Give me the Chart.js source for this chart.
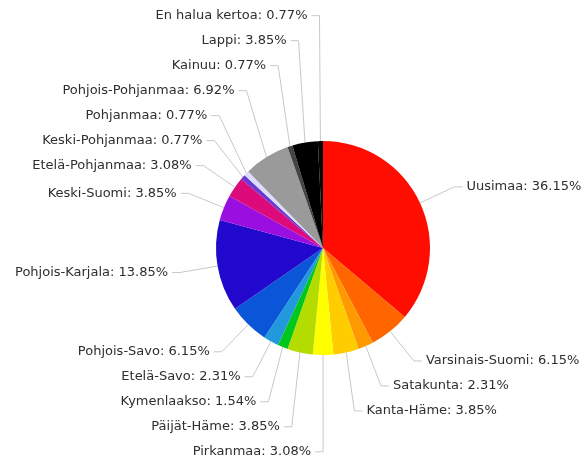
<!DOCTYPE html>
<html>
<head>
<meta charset="utf-8">
<script src="https://cdn.jsdelivr.net/npm/chart.js@4/dist/chart.umd.min.js"></script>
<style>
  html, body { margin: 0; padding: 0; background: #fff; }
  #chart { display: block; }
</style>
</head>
<body>
<canvas id="chart" width="588" height="465"></canvas>
<script>
// ── Data ──────────────────────────────────────────────────────────────────────
const regions = [
  'Uusimaa', 'Varsinais-Suomi', 'Satakunta', 'Kanta-Häme', 'Pirkanmaa',
  'Päijät-Häme', 'Kymenlaakso', 'Etelä-Savo', 'Pohjois-Savo', 'Pohjois-Karjala',
  'Keski-Suomi', 'Etelä-Pohjanmaa', 'Keski-Pohjanmaa', 'Pohjanmaa',
  'Pohjois-Pohjanmaa', 'Kainuu', 'Lappi', 'En halua kertoa'
];
const shares = [
  36.15, 6.15, 2.31, 3.85, 3.08,
  3.85, 1.54, 2.31, 6.15, 13.85,
  3.85, 3.08, 0.77, 0.77,
  6.92, 0.77, 3.85, 0.77
];
const sliceColors = [
  '#ff0d00', '#ff6600', '#ff9900', '#ffcc00', '#ffff00',
  '#b5dc00', '#00c81a', '#2299dd', '#0a55d8', '#2208cc',
  '#9a0ee0', '#dc0a7a', '#6a3ad0', '#dcdcff',
  '#9a9a9a', '#444444', '#000000', '#050505'
];

// ── Outside labels with elbow leader lines ────────────────────────────────────
const LABEL_FONT = '13px "DejaVu Sans", sans-serif';
const LABEL_GAP  = 25;     // min vertical distance between labels
const ELBOW_K    = 1.355;  // elbow radius relative to pie radius
const TAIL       = 8;      // horizontal leader segment
const TEXT_PAD   = 4;

const outsideLabels = {
  id: 'outsideLabels',
  afterDraw(chart) {
    const ctx  = chart.ctx;
    const arcs = chart.getDatasetMeta(0).data;
    const items = arcs.map((arc, i) => {
      const a  = (arc.startAngle + arc.endAngle) / 2;
      const r  = arc.outerRadius;
      const R  = r * ELBOW_K;
      const c  = Math.cos(a), s = Math.sin(a);
      return {
        text: `${regions[i]}: ${shares[i].toFixed(2)}%`,
        ex: arc.x + r * c, ey: arc.y + r * s,
        x:  arc.x + R * c, y:  arc.y + R * s,
        left: c < 1e-3, upper: s < 0,
      };
    });

    // spread labels away from the horizontal middle so they don't overlap
    [true, false].forEach(left => {
      const up = items.filter(d => d.left === left && d.upper).sort((p, q) => q.y - p.y);
      for (let k = 1; k < up.length; k++) up[k].y = Math.min(up[k].y, up[k - 1].y - LABEL_GAP);
      const dn = items.filter(d => d.left === left && !d.upper).sort((p, q) => p.y - q.y);
      for (let k = 1; k < dn.length; k++) dn[k].y = Math.max(dn[k].y, dn[k - 1].y + LABEL_GAP);
    });

    ctx.save();
    ctx.font = LABEL_FONT;
    ctx.textBaseline = 'middle';
    items.forEach(d => {
      const dir = d.left ? -1 : 1;
      ctx.strokeStyle = '#c8c8c8';
      ctx.lineWidth = 1;
      ctx.beginPath();
      ctx.moveTo(d.ex, d.ey);
      ctx.lineTo(d.x, d.y);
      ctx.lineTo(d.x + dir * TAIL, d.y);
      ctx.stroke();
      ctx.fillStyle = '#2e2e2e';
      ctx.textAlign = d.left ? 'right' : 'left';
      ctx.fillText(d.text, d.x + dir * (TAIL + TEXT_PAD), d.y);
    });
    ctx.restore();
  }
};

new Chart(document.getElementById('chart'), {
  type: 'pie',
  data: {
    labels: regions,
    datasets: [{
      data: shares,
      backgroundColor: sliceColors,
      borderWidth: 0,
      hoverOffset: 0,
    }]
  },
  options: {
    responsive: false,
    animation: false,
    layout: { padding: { left: 216, right: 158, top: 141, bottom: 110 } },
    plugins: {
      legend: { display: false },
      tooltip: { enabled: false },
    },
  },
  plugins: [outsideLabels],
});
</script>
</body>
</html>
